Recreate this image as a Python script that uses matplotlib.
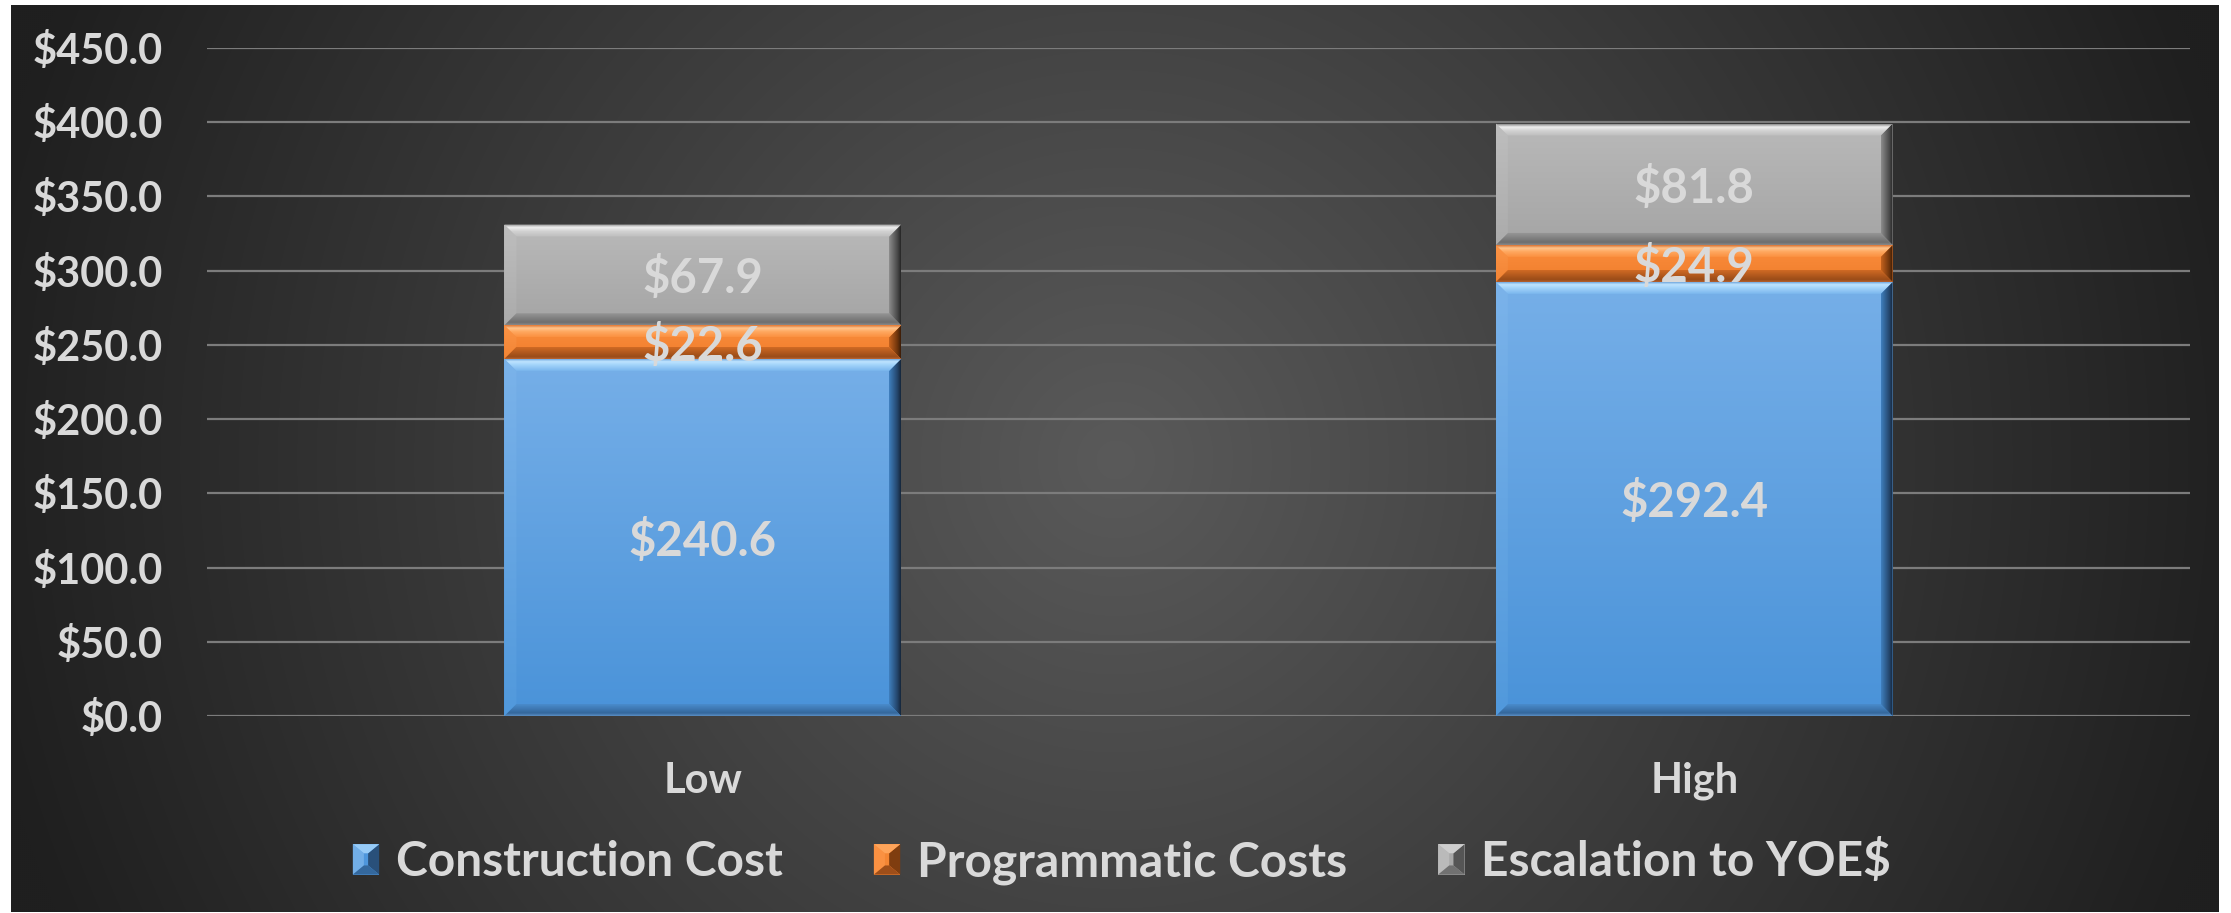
import numpy as np
import matplotlib
matplotlib.use("Agg")
import matplotlib.pyplot as plt
from matplotlib.patches import Polygon
from matplotlib.legend_handler import HandlerBase
from matplotlib.colors import to_rgb

# ---- data -------------------------------------------------------------
categories = ["Low", "High"]
construction_cost = [240.6, 292.4]
programmatic_costs = [22.6, 24.9]
escalation_yoe = [67.9, 81.8]
series_names = ["Construction Cost", "Programmatic Costs", "Escalation to YOE$"]
y_ticks = [0, 50, 100, 150, 200, 250, 300, 350, 400, 450]

# ---- styling ----------------------------------------------------------
FONT = "Lato"
TEXT_C = "#d9d9d9"
STYLES = [
    dict(body=[(0, "#76afe8"), (1, "#4a93d9")],
         top=[(0, "#6fa6dc"), (0.2, "#bfe4ff"), (0.45, "#a6d6fb"), (1, "#7ab6ee")],
         bottom=[(0, "#4a8ccc"), (0.75, "#34679c"), (1, "#5b8fc4")],
         left=[(0, "#7bb3ea"), (1, "#5199dc")],
         right=[(0, "#3f7fbe"), (0.7, "#24466c"), (1, "#15263a")],
         flat="#4e96dc"),
    dict(body=[(0, "#fb8d3d"), (1, "#f07e2c")],
         top=[(0, "#d87030"), (0.25, "#ffc48c"), (0.55, "#ffa860"), (1, "#fb9040")],
         bottom=[(0, "#d06a24"), (0.8, "#9a4c18"), (1, "#b06030")],
         left=[(0, "#fc9446"), (1, "#f28434")],
         right=[(0, "#c4621e"), (0.7, "#70350c"), (1, "#3a1c08")],
         flat="#f48634"),
    dict(body=[(0, "#b9b9b9"), (1, "#a5a5a5")],
         top=[(0, "#8a8a8a"), (0.25, "#f0f0f0"), (0.55, "#d2d2d2"), (1, "#bdbdbd")],
         bottom=[(0, "#9a9a9a"), (0.8, "#6e6e6e"), (1, "#8a8a8a")],
         left=[(0, "#bebebe"), (1, "#ababab")],
         right=[(0, "#8c8c8c"), (0.7, "#4a4a4a"), (1, "#262626")],
         flat="#a8a8a8"),
]

W, H, DPI = 2231, 913, 100
fig = plt.figure(figsize=(W / DPI, H / DPI), dpi=DPI, facecolor="white")

# ---- dark radial backdrop ----------------------------------------------
fx0, fx1, fy0, fy1 = 11, 2219, 5, 912
bg = fig.add_axes([fx0 / W, 1 - fy1 / H, (fx1 - fx0) / W, (fy1 - fy0) / H])
yy, xx = np.mgrid[fy0:fy1:2, fx0:fx1:2]
r = np.hypot(xx - 1115, yy - 460)
t = np.clip(r / 1150.0, 0, 1)
shade = (0x5a * (1 - t) + 0x1f * t) / 255.0
bg.imshow(np.dstack([shade] * 3), aspect="auto", interpolation="bilinear",
          extent=[0, 1, 0, 1])
bg.set_axis_off()
bg.set_zorder(0)

# ---- main axes ----------------------------------------------------------
ax_l, ax_r, ax_t, ax_b = 207, 2190, 48, 716
ax = fig.add_axes([ax_l / W, 1 - ax_b / H, (ax_r - ax_l) / W, (ax_b - ax_t) / H])
ax.set_zorder(1)
ax.patch.set_alpha(0)
XLIM, YLIM = (-0.5, 1.5), (0, 450)
px_x = (XLIM[1] - XLIM[0]) / (ax_r - ax_l)
px_y = (YLIM[1] - YLIM[0]) / (ax_b - ax_t)


def ramp(stops, n=96):
    pos = np.linspace(0, 1, n)
    ps = [s[0] for s in stops]
    cs = np.array([to_rgb(s[1]) for s in stops])
    return np.stack([np.interp(pos, ps, cs[:, k]) for k in range(3)], axis=-1)


def grad_poly(xy, stops, vertical=True, z=3.4):
    poly = Polygon(xy, closed=True, facecolor="none", edgecolor="none")
    ax.add_patch(poly)
    xs = [p[0] for p in xy]
    ys = [p[1] for p in xy]
    c = ramp(stops)
    arr = c[:, None, :] if vertical else c[None, :, :]
    im = ax.imshow(arr, extent=[min(xs), max(xs), min(ys), max(ys)], origin="upper",
                   aspect="auto", interpolation="bilinear", zorder=z)
    im.set_clip_path(poly)


def bevel(rect, st):
    x0, y0 = rect.get_x(), rect.get_y()
    x1, y1 = x0 + rect.get_width(), y0 + rect.get_height()
    h_px = rect.get_height() / px_y
    b = min(12.0, h_px / 2.6)
    bx, by = b * px_x, b * px_y
    grad_poly([(x0, y1), (x1, y1), (x1, y0), (x0, y0)], st["body"], z=3.2)
    grad_poly([(x0, y0), (x0 + bx, y0 + by), (x0 + bx, y1 - by), (x0, y1)],
              st["left"], z=3.4)
    grad_poly([(x1, y0), (x1 - bx, y0 + by), (x1 - bx, y1 - by), (x1, y1)],
              st["right"], vertical=False, z=3.4)
    grad_poly([(x0, y1), (x1, y1), (x1 - bx, y1 - by), (x0 + bx, y1 - by)],
              st["top"], z=3.5)
    grad_poly([(x0, y0), (x1, y0), (x1 - bx, y0 + by), (x0 + bx, y0 + by)],
              st["bottom"], z=3.5)


x = np.arange(len(categories))
bottoms = np.zeros(len(categories))
for vals, st in zip([construction_cost, programmatic_costs, escalation_yoe], STYLES):
    bars = ax.bar(x, vals, 0.4, bottom=bottoms, color=st["flat"], linewidth=0, zorder=3)
    for rect, v, b0 in zip(bars, vals, bottoms):
        bevel(rect, st)
        ax.text(rect.get_x() + rect.get_width() / 2, b0 + v / 2, f"${v:.1f}",
                ha="center", va="center_baseline", color=TEXT_C, fontsize=34,
                fontfamily=FONT, fontweight="bold", zorder=6)
    bottoms = bottoms + np.array(vals)

ax.set_xlim(*XLIM)
ax.set_ylim(*YLIM)
ax.set_yticks(y_ticks)
ax.set_yticklabels([f"${v:.1f}" for v in y_ticks])
ax.set_xticks(x)
ax.set_xticklabels(categories)
ax.yaxis.grid(True, color="#7c7c7c", linewidth=1.6)
ax.set_axisbelow(True)
for s in ax.spines.values():
    s.set_visible(False)
ax.tick_params(axis="y", length=0, pad=32, labelcolor=TEXT_C, labelsize=30)
ax.tick_params(axis="x", length=0, pad=33, labelcolor=TEXT_C, labelsize=30)
for lbl in ax.get_yticklabels() + ax.get_xticklabels():
    lbl.set_fontfamily(FONT)
    lbl.set_fontweight("bold")


# ---- legend with beveled keys ----------------------------------------
class BevelKey:
    def __init__(self, style):
        self.style = style


class BevelKeyHandler(HandlerBase):
    def create_artists(self, legend, orig_handle, xdescent, ydescent, width, height,
                       fontsize, trans):
        st = orig_handle.style
        x0, y0 = -xdescent, -ydescent
        x1, y1 = x0 + width, y0 + height
        bx, by = width * 0.42, height * 0.3
        top_c = ramp(st["top"])[60]
        bot_c = ramp(st["bottom"])[70]
        right_c = ramp(st["right"])[55]
        left_c = ramp(st["left"])[20]
        parts = [
            ([(x0, y0), (x1, y0), (x1, y1), (x0, y1)], st["flat"]),
            ([(x0, y0), (x0 + bx, y0 + by), (x0 + bx, y1 - by), (x0, y1)], left_c),
            ([(x1, y0), (x1 - bx, y0 + by), (x1 - bx, y1 - by), (x1, y1)], right_c),
            ([(x0, y1), (x1, y1), (x1 - bx, y1 - by), (x0 + bx, y1 - by)], top_c),
            ([(x0, y0), (x1, y0), (x1 - bx, y0 + by), (x0 + bx, y0 + by)], bot_c),
        ]
        return [Polygon(xy, closed=True, facecolor=c, edgecolor="none", transform=trans)
                for xy, c in parts]


keys = [BevelKey(st) for st in STYLES]
leg = fig.legend(keys, series_names, loc="center", bbox_to_anchor=(1122 / W, 1 - 862 / H),
                 ncol=3, frameon=False, handler_map={BevelKey: BevelKeyHandler()},
                 prop=dict(family=FONT, weight="bold", size=34.5),
                 handlelength=0.55, handleheight=0.6, handletextpad=0.35,
                 columnspacing=1.9, borderpad=0)
for txt in leg.get_texts():
    txt.set_color(TEXT_C)

fig.savefig("out.png", dpi=DPI, facecolor="white")
